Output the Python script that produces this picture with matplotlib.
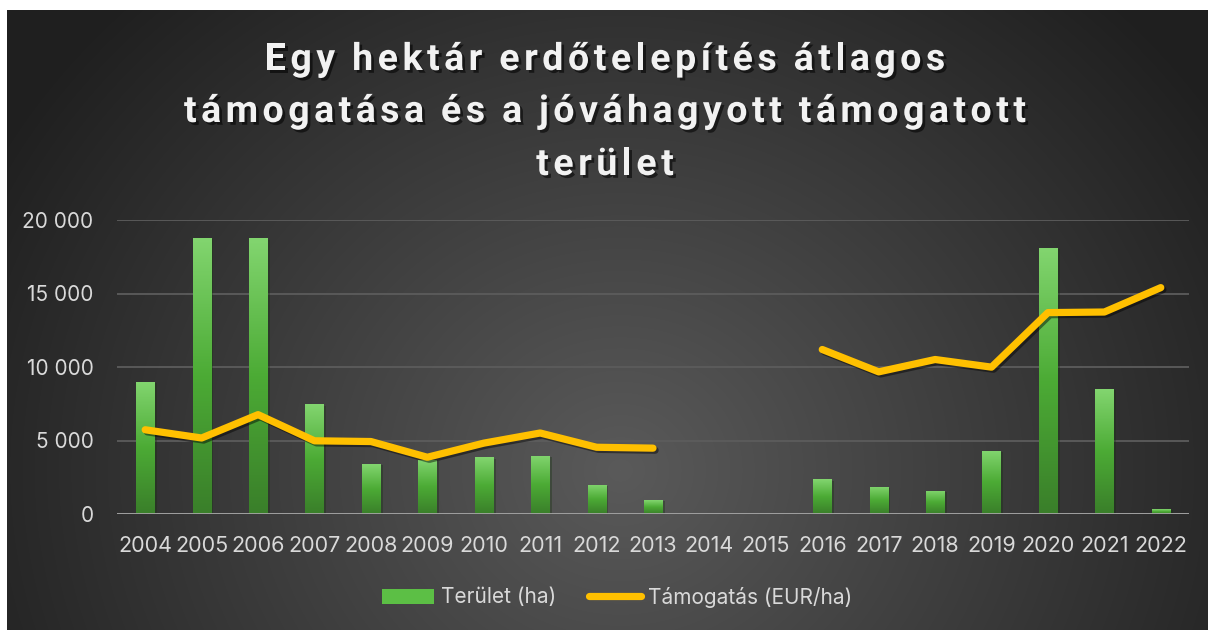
import matplotlib
matplotlib.use('Agg')
import matplotlib.patheffects as pe
import matplotlib.pyplot as plt
import numpy as np
from matplotlib.colors import LinearSegmentedColormap
from matplotlib.lines import Line2D
from matplotlib.patches import Patch

# adatok
years = [str(y) for y in range(2004, 2023)]
terulet = [9000, 18800, 18750, 7450, 3400, 3700, 3850, 3950, 2000, 950,
           np.nan, np.nan, 2370, 1860, 1570, 4300, 18100, 8500, 340]
tamogatas = [5730, 5170, 6760, 4980, 4930, 3860, 4820, 5510, 4540, 4480,
             np.nan, np.nan, 11190, 9670, 10510, 9990, 13700, 13740, 15400]
yticks = [0, 5000, 10000, 15000, 20000]
title_lines = ['Egy hektár erdőtelepítés átlagos',
               'támogatása és a jóváhagyott támogatott',
               'terület']
legend_labels = ['Terület (ha)', 'Támogatás (EUR/ha)']

W, H = 1208, 630
TXT = '#d9d9d9'
FONT = 'Inter'

fig = plt.figure(figsize=(W / 100, H / 100), dpi=100)

# háttér: radiális szürke színátmenet, fehér szegéllyel fent és balra
yy, xx = np.mgrid[0:H, 0:W]
d = np.hypot(xx - 620, (yy - 470) * 1.1)
c = (0x5a - (0x5a - 0x1f) * np.clip(d / 720, 0, 1)) / 255
img = np.dstack([c, c, c])
img[:10, :, :] = 1
img[:, :7, :] = 1
bgax = fig.add_axes([0, 0, 1, 1], zorder=-10)
bgax.imshow(img, extent=[0, 1, 0, 1], aspect='auto', interpolation='bilinear')
bgax.set_axis_off()

ax = fig.add_axes([117 / W, 1 - 514 / H, (1189 - 117) / W, (514 - 220) / H])
ax.set_facecolor('none')
x = np.arange(len(years))

# oszlopok zöld színátmenettel
bw = 0.32
green = LinearSegmentedColormap.from_list('g', ['#3a7f2a', '#4cab35', '#82d56f'])
grad = np.linspace(1, 0, 100).reshape(-1, 1)
bars = ax.bar(x, np.nan_to_num(terulet), width=bw, color='#4cab35', zorder=3,
              path_effects=[pe.SimplePatchShadow(offset=(2, -1), alpha=0.35), pe.Normal()])
for i, b in enumerate(bars):
    if np.isnan(terulet[i]):
        b.set_visible(False)
        continue
    im = ax.imshow(grad, cmap=green, extent=[x[i] - bw / 2, x[i] + bw / 2, 0, terulet[i]],
                   aspect='auto', zorder=3.5, vmin=0, vmax=1)
    im.set_clip_path(b)

# vonal
ax.plot(x, tamogatas, color='#ffc000', lw=5.2, solid_capstyle='round',
        solid_joinstyle='round', zorder=5,
        path_effects=[pe.SimpleLineShadow(offset=(1.5, -1.5), shadow_color='black', alpha=0.45),
                      pe.Normal()])

ax.set_xlim(-0.5, len(years) - 0.5)
ax.set_ylim(0, 20000)
ax.set_yticks(yticks)
ax.set_yticklabels([f'{v:,.0f}'.replace(',', ' ') for v in yticks])
ax.set_xticks(x)
ax.set_xticklabels(years)
ax.yaxis.grid(True, color='#5c5c5c', lw=1.3, zorder=0)
ax.axhline(0, color='#a6a6a6', lw=2, zorder=4)
for s in ax.spines.values():
    s.set_visible(False)
ax.tick_params(axis='y', length=0, pad=17, labelsize=15, labelcolor=TXT)
ax.tick_params(axis='x', length=0, pad=16, labelsize=15.5, labelcolor=TXT)
for lab in ax.get_xticklabels() + ax.get_yticklabels():
    lab.set_fontfamily(FONT)

# jelmagyarázat
handles = [Patch(facecolor='#5cbf45', edgecolor='none'),
           Line2D([], [], color='#ffc000', lw=5.2, solid_capstyle='round')]
fig.legend(handles, legend_labels, loc='center', bbox_to_anchor=(617 / W, 1 - 597 / H),
           ncol=2, frameon=False, prop={'family': FONT, 'size': 15}, labelcolor=TXT,
           handlelength=2.5, handletextpad=0.3, columnspacing=1.6)

# cím ritkított betűközzel, karakterenként elhelyezve
r = fig.canvas.get_renderer()
tkw = dict(fontsize=27, fontweight='bold', family='Roboto', color='#f2f2f2', va='baseline',
           ha='left', path_effects=[pe.withSimplePatchShadow(offset=(2, -2), shadow_rgbFace='black',
                                                            alpha=0.55)])
baselines = [70, 122, 175]
rows = []
for line in title_lines:
    arts = [fig.text(0, 0, ch, **tkw) for ch in line]
    ws = [8.0 if ch == ' ' else t.get_window_extent(r).width for ch, t in zip(line, arts)]
    rows.append((arts, ws))
track = (842 - sum(rows[1][1])) / (len(title_lines[1]) - 1)
for (arts, ws), yb in zip(rows, baselines):
    total = sum(ws) + track * (len(ws) - 1)
    xp = 605 - total / 2
    for t, w in zip(arts, ws):
        t.set_position((xp / W, 1 - yb / H))
        xp += w + track

fig.savefig('out.png', dpi=100)
